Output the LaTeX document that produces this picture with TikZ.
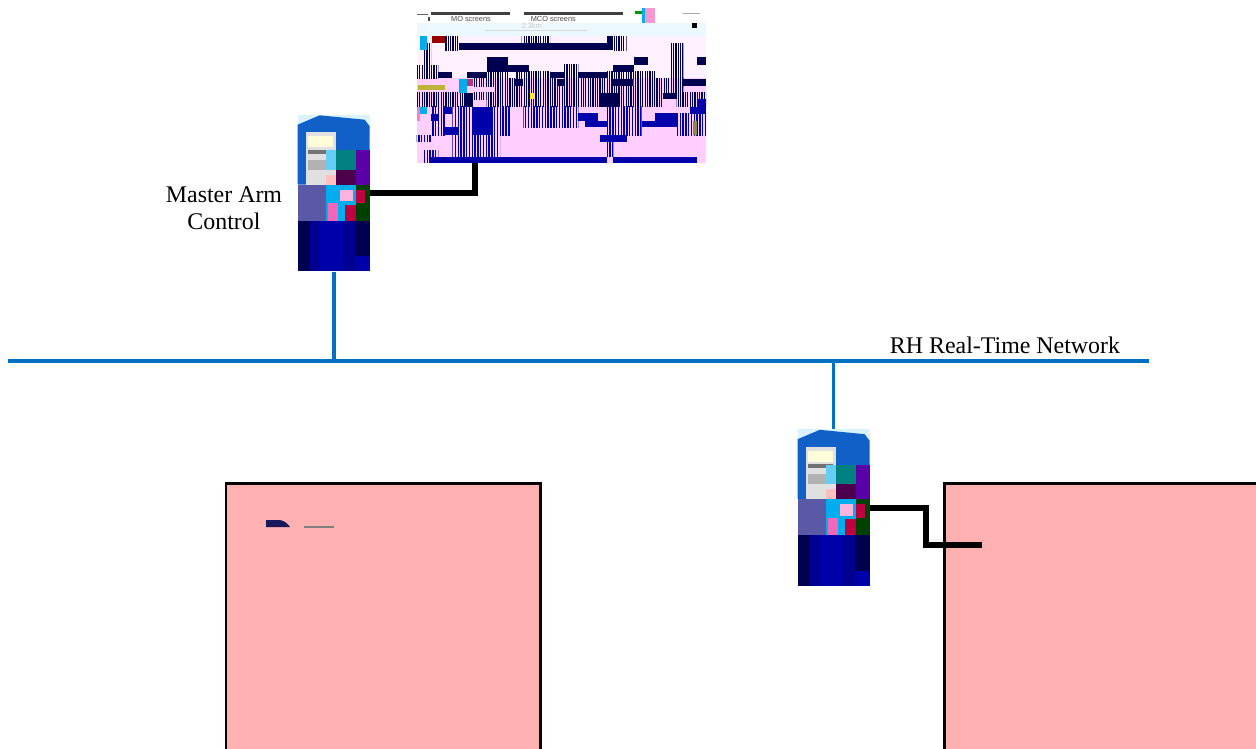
\documentclass[tikz,border=0pt]{standalone}
\usepackage{fontspec}
\setmainfont{Liberation Serif}
\newfontfamily\labelsans{Liberation Sans}
\usepackage{tikz}
\usetikzlibrary{
  positioning,
  patterns.meta,
  arrows.meta,
  calc
}
\definecolor{netblue}{RGB}{0,112,192}
\definecolor{boxpink}{RGB}{255,176,176}
\definecolor{screenpink}{RGB}{255,208,255}
\definecolor{deepnavy}{RGB}{0,0,80}
\definecolor{barblue}{RGB}{0,0,170}
\definecolor{towerblue}{RGB}{16,96,200}

\newcommand{\towerart}[1]{
  \begin{scope}[shift={(#1.north west)}, scale=1/3, shift={(-24,15)}]
    \fill[white!85!cyan] (24,-15) rectangle (240,-70);
    \fill[towerblue] (24,-70) -- (24,-45) -- (90,-17) -- (225,-30) -- (240,-50) -- (240,-225) -- (24,-225) -- cycle;
    \fill[black!12!white] (48,-68) rectangle (138,-225);
    \fill[yellow!15!white] (55,-80) rectangle (130,-112);
    \fill[black!55!white] (55,-120) rectangle (130,-132);
    \fill[black!30!white] (55,-150) rectangle (110,-180);
    \fill[teal] (138,-122) rectangle (198,-180);
    \fill[cyan!60!white] (108,-122) rectangle (138,-180);
    \fill[violet!70!blue] (198,-122) rectangle (240,-225);
    \fill[violet!60!black] (138,-180) rectangle (198,-225);
    \fill[pink] (108,-195) rectangle (138,-225);
    \fill[blue!30!gray] (24,-225) rectangle (108,-333);
    \fill[cyan] (108,-225) rectangle (198,-333);
    \fill[magenta!60!white] (115,-280) rectangle (145,-333);
    \fill[white!70!magenta] (150,-240) rectangle (190,-275);
    \fill[green!25!black] (198,-225) rectangle (240,-333);
    \fill[purple] (198,-240) rectangle (225,-280);
    \fill[purple] (165,-285) rectangle (198,-333);
    \fill[deepnavy] (24,-333) rectangle (240,-485);
    \fill[barblue!85!black] (60,-333) rectangle (195,-485);
    \fill[barblue] (90,-333) rectangle (160,-485);
    \fill[barblue] (195,-440) rectangle (240,-485);
  \end{scope}
}

\begin{document}
\begin{tikzpicture}[
  x=0.02cm, y=0.02cm,
  tower/.style={rectangle, inner sep=0pt, minimum width=1.44cm, minimum height=3.14cm},
  screen/.style={rectangle, inner sep=0pt, fill=screenpink, minimum width=5.78cm, minimum height=3.1cm},
  plant/.style={rectangle, draw=black, line width=1.7pt, fill=boxpink, minimum width=6.3cm, minimum height=8cm, anchor=north west},
  net/.style={netblue, line width=2.2pt},
  cable/.style={black, line width=3.4pt},
  lbl/.style={font=\fontsize{13.6}{15.3}\selectfont, align=center},
  tiny/.style={font=\labelsans\fontsize{4.2}{5}\selectfont, text=black!70, inner sep=0pt},
  hatch/.style={pattern={Lines[angle=90,distance=1.35pt,line width=0.7pt]}, pattern color=deepnavy},
  hatchblue/.style={pattern={Lines[angle=90,distance=1.6pt,line width=0.8pt]}, pattern color=barblue}
]
  \useasboundingbox (0,0) rectangle (1256,-748);
  \clip (0,0) rectangle (1256,-748);

  \node[screen] (scr) at (561.5,-85.5) {};
  \node[tower] (mac) at (334,-193.5) {};
  \node[tower] (slave) at (834,-508) {};
  \node[plant] (left) at (224.5,-481.5) {};
  \node[plant] (right) at (942.5,-481.5) {};

  % screen picture, zoom coordinates
  \begin{scope}[shift={(410,0)}, scale=1/3]
    \fill[white] (21,-24) rectangle (888,-68);
    \fill[cyan!8!white] (21,-68) rectangle (888,-108);
    \fill[white!70!screenpink] (21,-108) rectangle (888,-235);
    \fill[black!75!white] (63,-36) rectangle (300,-44);
    \fill[black!75!white] (342,-36) rectangle (640,-44);
    \fill[black!60!white] (21,-42) rectangle (55,-45);
    \fill[black!70!white] (54,-50) rectangle (60,-64);
    \fill[black!35!white] (820,-38) rectangle (870,-42);
    \node[tiny] (mo) at (183,-56) {MO screens};
    \node[tiny] (mco) at (430,-56) {MCO screens};
    \node[tiny, text=black!20] (span) at (365,-78) {2.3km};
    \draw[black!15, line width=0.2pt] (225,-92) -- (530,-92);
    \foreach \xa/\ya/\xb/\yb in {105/108/146/150, 335/108/420/130, 610/108/650/150, 780/130/820/235,
      40/130/63/235, 20/195/85/235, 232/194/295/235, 315/215/420/235, 462/194/505/235, 590/215/735/235,
      190/236/315/258, 338/236/440/258, 462/236/610/258, 670/236/820/258,
      255/258/820/278, 20/278/168/320, 190/278/230/298, 230/278/570/320, 630/278/760/320, 800/278/888/320}
      \fill[hatch] (\xa,-\ya) rectangle (\xb,-\yb);
    \foreach \xa/\ya/\xb/\yb in {65/320/105/405, 127/320/190/470, 250/320/300/405, 340/320/505/382, 590/320/695/405, 800/340/888/405,
      20/405/63/425, 148/405/270/470, 590/405/610/470, 40/450/85/488}
      \fill[hatchblue] (\xa,-\ya) rectangle (\xb,-\yb);
    \foreach \xa/\ya/\xb/\yb in {146/130/610/150, 590/108/610/150, 232/172/295/215, 295/194/358/215,
      85/215/125/235, 170/215/232/235, 420/215/462/235, 505/215/590/235, 610/194/672/215,
      672/172/715/194, 862/172/888/194, 315/236/338/258, 610/236/670/258, 570/278/630/320,
      440/236/462/258, 820/236/888/258, 168/278/190/320, 760/278/800/298}
      \fill[deepnavy] (\xa,-\ya) rectangle (\xb,-\yb);
    \foreach \xa/\ya/\xb/\yb in {190/320/250/405, 525/362/590/382, 505/340/565/362, 695/362/800/382,
      735/340/800/362, 63/470/590/488, 610/470/862/488, 570/405/650/425, 63/342/85/362, 105/320/127/342,
      105/382/148/405, 840/320/888/342, 862/298/888/320}
      \fill[barblue] (\xa,-\ya) rectangle (\xb,-\yb);
    \fill[red!60!black] (65,-108) rectangle (105,-130);
    \fill[cyan] (30,-108) rectangle (50,-150);
    \fill[yellow!70!black] (25,-255) rectangle (105,-270);
    \fill[cyan] (148,-236) rectangle (170,-278);
    \fill[magenta!70!black] (170,-236) rectangle (190,-258);
    \fill[yellow] (360,-278) rectangle (372,-298);
    \fill[cyan] (30,-320) rectangle (50,-342);
    \fill[magenta!50!white] (21,-320) rectangle (30,-362);
    \fill[green!60!black] (675,-32) rectangle (695,-42);
    \fill[cyan] (695,-24) rectangle (705,-68);
    \fill[magenta!40!white] (705,-24) rectangle (735,-68);
    \fill[black] (845,-70) rectangle (860,-84);
    \fill[yellow!50!black] (850,-362) rectangle (862,-405);
  \end{scope}

  \towerart{mac}
  \towerart{slave}

  % marks near the top of the left box
  \fill[deepnavy!80!gray] (266,-527) -- (266,-520) -- (280,-520) .. controls (285,-521) and (288,-524) .. (290,-527) -- cycle;
  \fill[black!50!white] (304,-526) rectangle (334,-527.5);

  \coordinate (netw) at (8,-361);
  \coordinate (nete) at (1149,-361);
  \draw[net] (netw) -- (nete);
  \draw[net] (mac.south) -- (mac.south |- netw);
  \draw[net] (slave.north -| 833.5,0) -- (833.5,-361);

  \draw[cable] (mac.east |- 0,-193) -| (scr.south -| 475,0);
  \coordinate (plug) at (982,-545);
  \draw[cable] (slave.east) -- (926,-508) -- (926,-545) -- (plug);

  \node[lbl] (maclbl) at (224,-208.5) {Master Arm\\Control};
  \node[lbl] (netlbl) at (1005,-345) {RH Real-Time Network};
\end{tikzpicture}
\end{document}
